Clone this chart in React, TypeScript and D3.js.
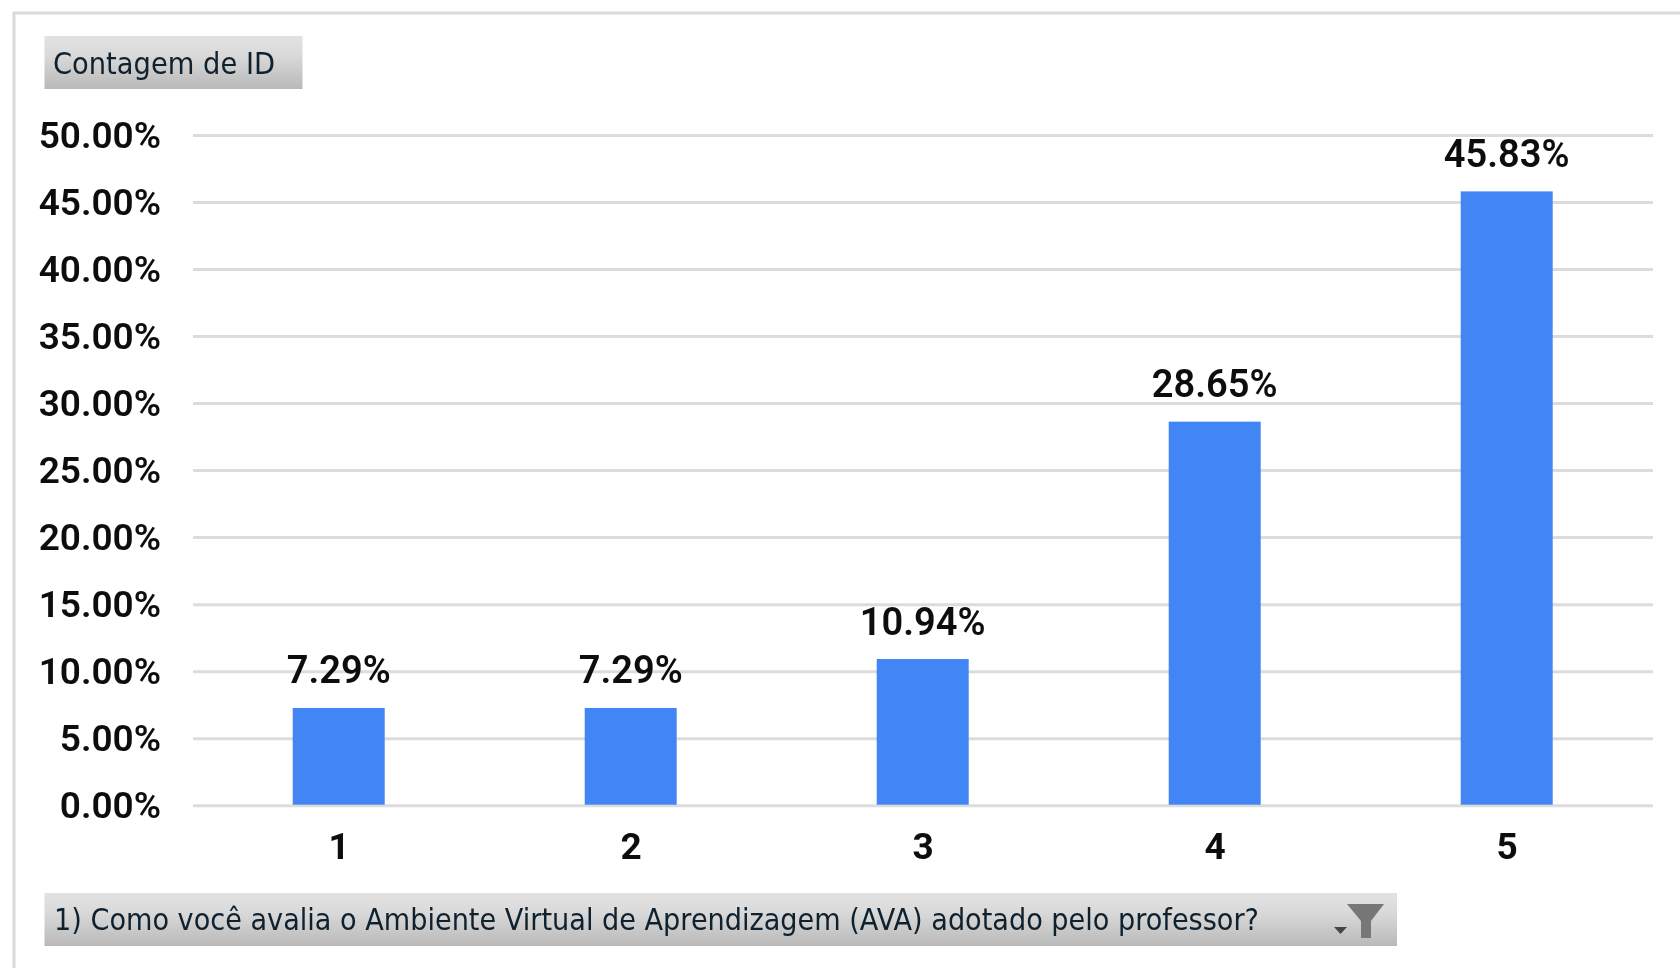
import React from "react";
import * as d3 from "d3";

const categories = ["1", "2", "3", "4", "5"];
const values = [7.29, 7.29, 10.94, 28.65, 45.83];
const valueLabels = ["7.29%", "7.29%", "10.94%", "28.65%", "45.83%"];
const yTicks = [0, 5, 10, 15, 20, 25, 30, 35, 40, 45, 50];
const valueTitle = "Contagem de ID";
const filterTitle = "1) Como você avalia o Ambiente Virtual de Aprendizagem (AVA) adotado pelo professor?";

const W = 1680, H = 968;
const x = d3.scaleBand<string>().domain(categories).range([192.7, 1652.7]).paddingInner(0.685).paddingOuter(0.3425);
const y = d3.scaleLinear().domain([0, 50]).range([805.7, 135.5]);
const fmt = d3.format(".2f");
const sans = "Roboto, 'Liberation Sans', sans-serif";
const ui = "'DejaVu Sans', sans-serif";

export default function App() {
  return (
    <svg width={W} height={H} viewBox={`0 0 ${W} ${H}`}
      style={{ position: "absolute", left: 0, top: 0, display: "block", background: "#fff" }}>
      <defs>
        <linearGradient id="btn" x1="0" x2="0" y1="0" y2="1">
          <stop offset="0" stopColor="#e2e2e2" />
          <stop offset="0.35" stopColor="#dadada" />
          <stop offset="1" stopColor="#b9b9b9" />
        </linearGradient>
        <filter id="soft" x="-5%" y="-5%" width="110%" height="110%">
          <feGaussianBlur stdDeviation="0.6" />
        </filter>
      </defs>
      <g filter="url(#soft)">
        <path d="M14 968V13H1680" fill="none" stroke="#d9d9d9" strokeWidth={3} />
        <rect x={44.5} y={36} width={258} height={53} fill="url(#btn)" />
        <text x={53} y={74} fontFamily={ui} fontSize={30} fill="#10202f" textLength={222} lengthAdjust="spacingAndGlyphs">{valueTitle}</text>
        {yTicks.map(t => (
          <g key={t}>
            <line x1={193} x2={1653} y1={y(t)} y2={y(t)} stroke="#dcdcdc" strokeWidth={3} />
            <text x={161} y={y(t) + 12} textAnchor="end" fontFamily={sans} fontWeight={600} fontSize={37} fill="#0c0c0c">{fmt(t) + "%"}</text>
          </g>
        ))}
        {categories.map((c, i) => (
          <g key={c}>
            <rect x={x(c)} y={y(values[i])} width={x.bandwidth()} height={y(0) - y(values[i]) - 1} fill="#4285f4" />
            <text x={x(c)! + x.bandwidth() / 2} y={y(values[i]) - 24.5} textAnchor="middle" fontFamily={sans} fontWeight={600} fontSize={38} fill="#0c0c0c">{valueLabels[i]}</text>
            <text x={x(c)! + x.bandwidth() / 2 + 0.5} y={859} textAnchor="middle" fontFamily={sans} fontWeight={700} fontSize={37} fill="#0c0c0c">{c}</text>
          </g>
        ))}
        <rect x={44.5} y={893} width={1352.5} height={53} fill="url(#btn)" />
        <text x={54} y={930} fontFamily={ui} fontSize={30} fill="#10202f" textLength={1205} lengthAdjust="spacingAndGlyphs">{filterTitle}</text>
        <path d="M1347 904H1384L1371 921V938H1361V921Z" fill="#777" />
        <path d="M1334 927H1347L1340.5 934Z" fill="#444" />
      </g>
    </svg>
  );
}
